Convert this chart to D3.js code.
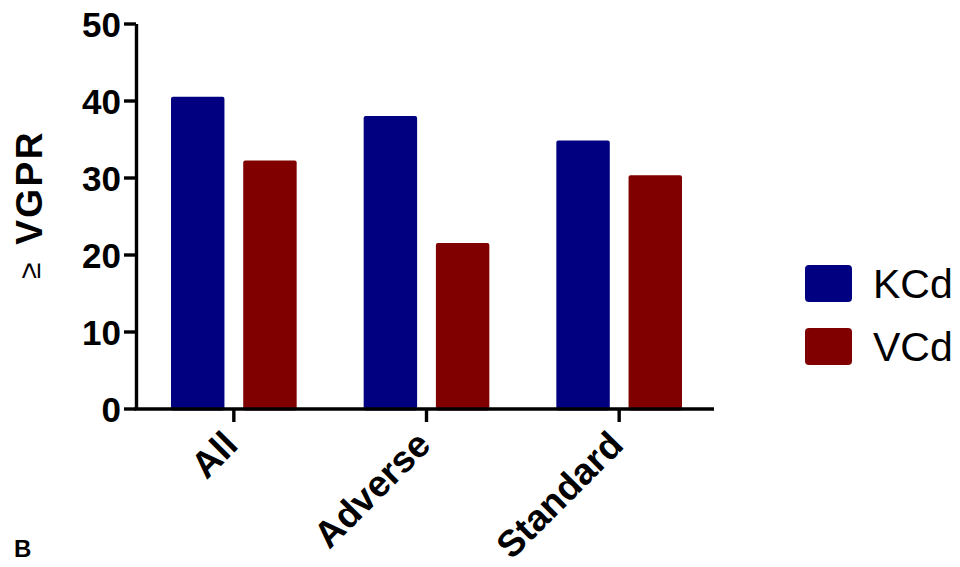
<!DOCTYPE html>
<html>
<head>
<meta charset="utf-8">
<script src="https://cdn.jsdelivr.net/npm/d3@7"></script>
<style>
  html, body { margin: 0; padding: 0; background: #fff; }
  svg { display: block; }
  text { font-family: "Liberation Sans", Arial, Helvetica, sans-serif; }
</style>
</head>
<body>
<svg id="chart" width="960" height="567"></svg>
<script>
// Response (≥ VGPR, %) by risk group and regimen
const categories = ["All", "Adverse", "Standard"];
const seriesNames = ["KCd", "VCd"];
const kcdValues = [40.5, 38.0, 34.8];
const vcdValues = [32.2, 21.5, 30.3];
const yTicks = [0, 10, 20, 30, 40, 50];
const colors = ["#000080", "#800000"];

const svg = d3.select("#chart");

const x = d3.scaleBand().domain(categories).range([137.5, 715.5]);
const xInner = d3.scaleBand().domain(seriesNames)
  .range([33.5, x.bandwidth() - 33.5]).paddingInner(0.26);
const y = d3.scaleLinear().domain([0, 50]).range([408.5, 23.5]);

const rows = categories.map((c, i) => ({ cat: c, values: [kcdValues[i], vcdValues[i]] }));

// bars
const groups = svg.append("g").selectAll("g").data(rows).join("g")
  .attr("transform", d => `translate(${x(d.cat)},0)`);
groups.selectAll("rect")
  .data(d => d.values.map((v, j) => ({ name: seriesNames[j], v, j })))
  .join("rect")
  .attr("x", d => xInner(d.name))
  .attr("width", xInner.bandwidth())
  .attr("y", d => y(d.v))
  .attr("height", d => y(0) - y(d.v) + 2)
  .attr("rx", 2)
  .attr("fill", d => colors[d.j]);

// y axis
const yAxis = svg.append("g")
  .attr("transform", "translate(136,0)")
  .call(d3.axisLeft(y).tickValues(yTicks).tickSize(12).tickPadding(3).tickSizeOuter(0));
yAxis.select(".domain").attr("stroke", "#000").attr("stroke-width", 3.4);
yAxis.selectAll(".tick line").attr("stroke", "#000").attr("stroke-width", 3.4);
yAxis.selectAll(".tick text")
  .attr("fill", "#000")
  .attr("dy", "0.36em")
  .style("font-size", "35px")
  .style("font-weight", "bold")
  .style("font-family", "'Liberation Sans', Arial, sans-serif");

// x axis
const xAxis = svg.append("g")
  .attr("transform", "translate(0,409)")
  .call(d3.axisBottom(x).tickSize(13).tickSizeOuter(0).tickFormat(""));
xAxis.select(".domain").attr("stroke", "#000").attr("stroke-width", 3.4)
  .attr("d", "M134.3,0H714");
xAxis.selectAll(".tick line").attr("stroke", "#000").attr("stroke-width", 3.4);

// rotated category labels
svg.append("g").selectAll("text").data(categories).join("text")
  .attr("transform", d => `translate(${x(d) + x.bandwidth() / 2 + 6},447) rotate(-45)`)
  .attr("text-anchor", "end")
  .style("font-size", "37px")
  .style("font-weight", "bold")
  .attr("fill", "#000")
  .text(d => d);

// y axis title
svg.append("text")
  .attr("transform", "translate(42,130) rotate(-90)")
  .attr("text-anchor", "end")
  .style("font-size", "37px")
  .style("font-weight", "bold")
  .style("letter-spacing", "2.5px")
  .attr("fill", "#000")
  .text("VGPR");
svg.append("text")
  .attr("transform", "translate(40,279) rotate(-90)")
  .attr("text-anchor", "start")
  .style("font-size", "30px")
  .attr("fill", "#000")
  .text("≥");

// legend
const legend = svg.append("g").selectAll("g").data(seriesNames).join("g")
  .attr("transform", (d, i) => `translate(805,${265 + i * 63})`);
legend.append("rect")
  .attr("width", 47).attr("height", 37).attr("rx", 4)
  .attr("fill", (d, i) => colors[i]);
legend.append("text")
  .attr("x", 68).attr("y", 33)
  .style("font-size", "41px")
  .attr("fill", "#000")
  .text(d => d);

// panel letter
svg.append("text")
  .attr("x", 14).attr("y", 557)
  .style("font-size", "24px")
  .style("font-weight", "bold")
  .attr("fill", "#000")
  .text("B");
</script>
</body>
</html>
